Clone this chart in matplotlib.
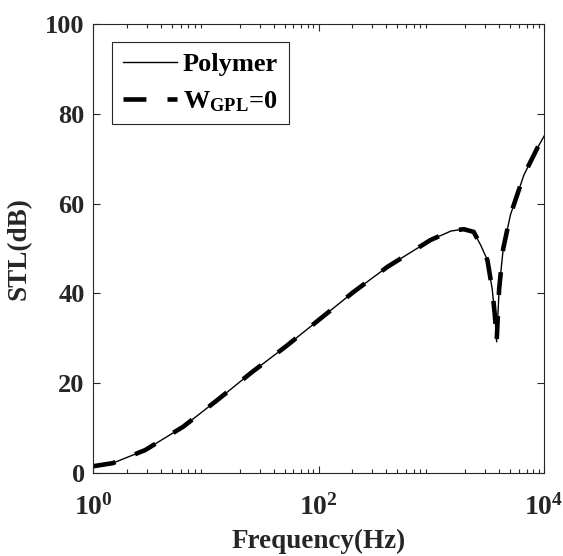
import matplotlib
matplotlib.use('Agg')
import matplotlib.pyplot as plt
from matplotlib.ticker import LogLocator, NullFormatter

# values (frequency in Hz, STL in dB)
freq = [1, 1.5, 2.9, 6.3, 12.9, 25.5, 52, 103, 204, 408, 987, 1500, 1940,
        2380, 2750, 3150, 3470, 3670, 3800, 4000, 4350, 5040, 6640, 8740, 10000]
stl_polymer = [1.5, 2.2, 5.1, 10.3, 16.4, 22.4, 28.3, 34.3, 40.3, 45.9, 51.9, 53.9, 54.3,
               53.7, 50.7, 47.4, 41.0, 35.0, 29.2, 41.0, 50.0, 57.5, 66.4, 72.4, 75.0]
stl_wgpl0 = stl_polymer

yticks = [0, 20, 40, 60, 80, 100]
xticks = [1, 1e2, 1e4]

plt.rcParams['font.family'] = ['Liberation Serif', 'DejaVu Serif']
plt.rcParams['font.weight'] = 'bold'
plt.rcParams['mathtext.fontset'] = 'custom'
plt.rcParams['mathtext.rm'] = 'Liberation Serif:bold'
plt.rcParams['mathtext.bf'] = 'Liberation Serif:bold'
plt.rcParams['mathtext.it'] = 'Liberation Serif:bold:italic'
plt.rcParams['mathtext.default'] = 'bf'

dark = '#262626'

fig = plt.figure(figsize=(5.63, 5.56), dpi=100)
ax = fig.add_axes([93/563, 1-473/556, (544-93)/563, (473-24)/556])

ax.plot(freq, stl_polymer, color='k', lw=1.0, label='Polymer')
ax.plot(freq, stl_wgpl0, color='k', lw=3.3, dashes=(5.0, 4.6),
        label=r'W$_{\mathbf{GPL}}$=0', solid_capstyle='butt', dash_capstyle='butt')

ax.set_xscale('log')
ax.set_xlim(1, 1e4)
ax.set_ylim(0, 100)
ax.set_xticks(xticks)
ax.set_yticks(yticks)
ax.xaxis.set_minor_locator(LogLocator(base=10, subs=range(2, 10), numticks=20))
ax.xaxis.set_minor_formatter(NullFormatter())

ax.tick_params(which='both', direction='in', top=True, right=True, colors=dark,
               labelcolor=dark)
ax.tick_params(which='major', length=5, width=0.8, labelsize=19, pad=6)
ax.tick_params(which='minor', length=3, width=0.8)
ax.tick_params(axis='x', which='major', labelsize=20, pad=15)
for s in ax.spines.values():
    s.set_color(dark)
    s.set_linewidth(0.8)

ax.set_xlabel('Frequency(Hz)', fontsize=19.5, fontweight='bold', color=dark, labelpad=6)
ax.set_ylabel('STL(dB)', fontsize=19.5, fontweight='bold', color=dark, labelpad=10)

leg = ax.legend(loc='upper left', bbox_to_anchor=(112/563, 1-42/556),
                bbox_transform=fig.transFigure, borderaxespad=0,
                fancybox=False, framealpha=1, edgecolor=dark,
                prop={'size': 19, 'weight': 'bold'}, handlelength=2.08,
                handletextpad=0.2, borderpad=0.4, labelspacing=0.5)
leg.get_frame().set_linewidth(0.8)

fig.savefig('out.png', dpi=100)
